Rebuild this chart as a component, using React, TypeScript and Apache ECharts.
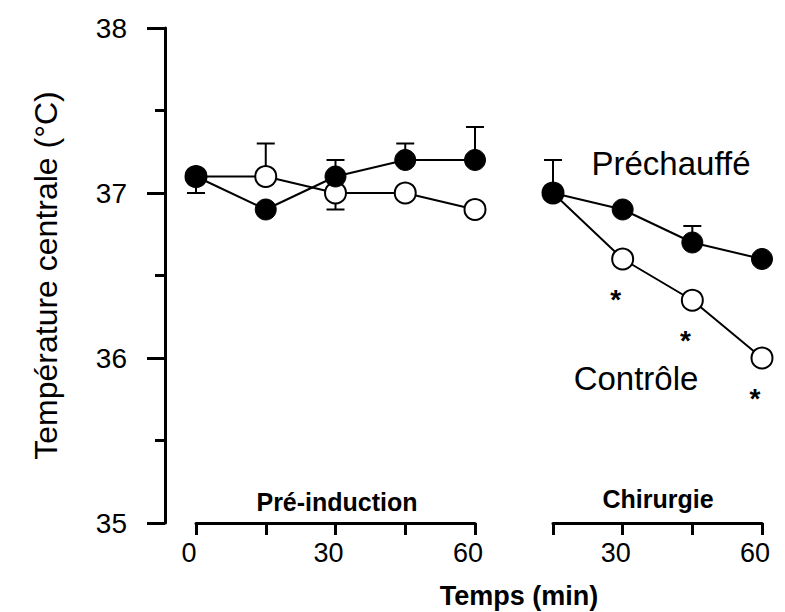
import React, { useEffect, useRef } from "react";
import * as echarts from "echarts";

// ---- Data ----
const preTimes = [0, 15, 30, 45, 60];
const preHeatPre = [37.1, 36.9, 37.1, 37.2, 37.2];
const preHeatPreErr = [37.0, null, 37.2, 37.3, 37.4];
const controlPre = [37.1, 37.1, 37.0, 37.0, 36.9];
const controlPreErr = [null, 37.3, 36.9, null, null];

const surgTimes = [15, 30, 45, 60];
const preHeatSurg = [37.0, 36.9, 36.7, 36.6];
const preHeatSurgErr = [37.2, null, 36.8, null];
const controlSurg = [37.0, 36.6, 36.35, 36.0];
const controlSurgSignif = [false, true, true, true];

const yTicks = [35, 36, 37, 38];

const FONT = "'Liberation Sans', Arial, Helvetica, sans-serif";

function pairs(xs: number[], ys: number[]) {
  return xs.map((x, i) => [x, ys[i]]);
}
function errPairs(xs: number[], ys: number[], es: (number | null)[]) {
  const out: number[][] = [];
  xs.forEach((x, i) => {
    if (es[i] !== null && es[i] !== undefined) out.push([x, ys[i], es[i] as number]);
  });
  return out;
}

const renderErr = (params: any, api: any) => {
  const p = api.coord([api.value(0), api.value(1)]);
  const q = api.coord([api.value(0), api.value(2)]);
  return {
    type: "group",
    children: [
      { type: "line", shape: { x1: p[0], y1: p[1], x2: q[0], y2: q[1] }, style: { stroke: "#000", lineWidth: 2 } },
      { type: "line", shape: { x1: q[0] - 9, y1: q[1], x2: q[0] + 9, y2: q[1] }, style: { stroke: "#000", lineWidth: 2 } },
    ],
  };
};

export default function App() {
  const ref = useRef<HTMLDivElement>(null);
  useEffect(() => {
    if (!ref.current) return;
    const chart = echarts.init(ref.current, undefined, { renderer: "svg" });
    const yMin = yTicks[0];
    const yMax = yTicks[yTicks.length - 1];
    const baseX = {
      type: "value",
      interval: 15,
      axisLine: { show: true, onZero: false, lineStyle: { color: "#000", width: 3 } },
      axisTick: { show: true, length: 12, lineStyle: { color: "#000", width: 3 } },
      splitLine: { show: false },
      axisLabel: {
        color: "#000",
        fontSize: 27,
        fontFamily: FONT,
        margin: 16,
        padding: [0, 14, 0, 0],
        formatter: (v: number) => (v % 30 === 0 ? String(v) : ""),
        showMinLabel: true,
        showMaxLabel: true,
      },
    };
    const option: any = {
      animation: false,
      backgroundColor: "#fff",
      textStyle: { fontFamily: FONT },
      grid: [
        { left: 196, width: 279, top: 28, height: 495 },
        { left: 553, width: 209, top: 28, height: 495 },
      ],
      xAxis: [
        { ...baseX, gridIndex: 0, min: preTimes[0], max: preTimes[preTimes.length - 1] },
        { ...baseX, gridIndex: 1, min: surgTimes[0], max: surgTimes[surgTimes.length - 1] },
      ],
      yAxis: [
        {
          type: "value",
          gridIndex: 0,
          min: yMin,
          max: yMax,
          interval: 1,
          offset: 31,
          name: "Température centrale (°C)",
          nameLocation: "middle",
          nameRotate: 90,
          nameGap: 103,
          nameTextStyle: { color: "#000", fontSize: 32, fontFamily: FONT },
          axisLine: { show: true, onZero: false, lineStyle: { color: "#000", width: 3 } },
          axisTick: { show: true, length: 18, lineStyle: { color: "#000", width: 3 } },
          minorTick: { show: true, splitNumber: 2, length: 10, lineStyle: { color: "#000", width: 3 } },
          splitLine: { show: false },
          axisLabel: {
            color: "#000",
            fontSize: 28,
            fontFamily: FONT,
            margin: 38,
            padding: [0, 0, 12, 0],
          },
        },
        {
          type: "value",
          gridIndex: 1,
          min: yMin,
          max: yMax,
          show: false,
        },
      ],
      series: [
        {
          type: "custom",
          name: "errPre",
          xAxisIndex: 0,
          yAxisIndex: 0,
          renderItem: renderErr,
          encode: { x: 0, y: [1, 2] },
          data: [...errPairs(preTimes, preHeatPre, preHeatPreErr), ...errPairs(preTimes, controlPre, controlPreErr)],
          z: 1,
        },
        {
          type: "custom",
          name: "errSurg",
          xAxisIndex: 1,
          yAxisIndex: 1,
          renderItem: renderErr,
          encode: { x: 0, y: [1, 2] },
          data: errPairs(surgTimes, preHeatSurg, preHeatSurgErr),
          z: 1,
        },
        {
          type: "line",
          name: "Contrôle",
          xAxisIndex: 0,
          yAxisIndex: 0,
          data: pairs(preTimes, controlPre),
          symbol: "circle",
          symbolSize: 21,
          lineStyle: { color: "#000", width: 2 },
          itemStyle: { color: "#fff", borderColor: "#000", borderWidth: 2 },
          z: 2,
        },
        {
          type: "line",
          name: "Préchauffé",
          xAxisIndex: 0,
          yAxisIndex: 0,
          data: pairs(preTimes, preHeatPre),
          symbol: "circle",
          symbolSize: 21,
          lineStyle: { color: "#000", width: 2 },
          itemStyle: { color: "#000", borderColor: "#000", borderWidth: 1 },
          z: 3,
        },
        {
          type: "line",
          name: "Contrôle chirurgie",
          xAxisIndex: 1,
          yAxisIndex: 1,
          data: surgTimes.map((t, i) => ({
            value: [t, controlSurg[i]],
            label: {
              show: controlSurgSignif[i],
              formatter: "*",
              position: "bottom",
              distance: 10,
              offset: [-7, 5],
              color: "#000",
              fontSize: 28,
              fontWeight: "bold",
              fontFamily: FONT,
            },
          })),
          symbol: "circle",
          symbolSize: 21,
          lineStyle: { color: "#000", width: 2 },
          itemStyle: { color: "#fff", borderColor: "#000", borderWidth: 2 },
          z: 2,
        },
        {
          type: "line",
          name: "Préchauffé chirurgie",
          xAxisIndex: 1,
          yAxisIndex: 1,
          data: pairs(surgTimes, preHeatSurg),
          symbol: "circle",
          symbolSize: 21,
          lineStyle: { color: "#000", width: 2 },
          itemStyle: { color: "#000", borderColor: "#000", borderWidth: 1 },
          z: 3,
        },
      ],
      graphic: [
        {
          type: "text",
          x: 337,
          y: 502,
          style: { text: "Pré-induction", fontSize: 25, fontWeight: "bold", fontFamily: FONT, fill: "#000", align: "center", verticalAlign: "middle" },
        },
        {
          type: "text",
          x: 658,
          y: 499,
          style: { text: "Chirurgie", fontSize: 25, fontWeight: "bold", fontFamily: FONT, fill: "#000", align: "center", verticalAlign: "middle" },
        },
        {
          type: "text",
          x: 519,
          y: 596,
          style: { text: "Temps (min)", fontSize: 27, fontWeight: "bold", fontFamily: FONT, fill: "#000", align: "center", verticalAlign: "middle" },
        },
        {
          type: "text",
          x: 671,
          y: 163,
          style: { text: "Préchauffé", fontSize: 33, fontFamily: FONT, fill: "#000", align: "center", verticalAlign: "middle" },
        },
        {
          type: "text",
          x: 636,
          y: 378,
          style: { text: "Contrôle", fontSize: 33, fontFamily: FONT, fill: "#000", align: "center", verticalAlign: "middle" },
        },
      ],
    };
    chart.setOption(option);
    return () => chart.dispose();
  }, []);
  return (
    <div
      ref={ref}
      style={{ position: "absolute", left: 0, top: 0, width: 785, height: 612 }}
    />
  );
}
